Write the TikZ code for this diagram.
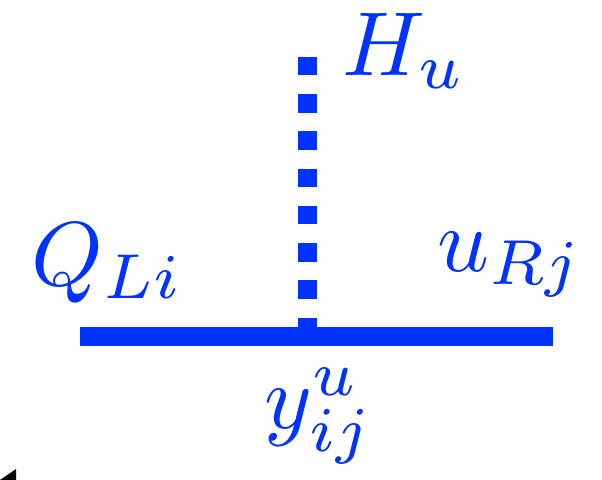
\documentclass[tikz,border=0pt]{standalone}
\usepackage{amsmath}
\usetikzlibrary{positioning}
\definecolor{quark}{RGB}{0,51,255}

\begin{document}
\begin{tikzpicture}[
  x=0.02cm,y=-0.02cm,
  lbl/.style={inner sep=0pt,text=quark,anchor=base west,scale=5.17},
  fermion/.style={line width=10.8pt,color=quark},
  scalar/.style={line width=10.8pt,color=quark,dash pattern=on 10.5pt off 10.7pt},
]
\useasboundingbox (0,0) rectangle (602,480);

\coordinate (qL) at (80,336.5);
\coordinate (uR) at (553,336.5);
\coordinate (vtx) at (307.5,336.5);
\coordinate (hu) at (307.5,57);

\draw[fermion] (qL) -- (uR);
\draw[scalar] (hu) -- (vtx);

\node[lbl] (hlab) at (341,75) {$H_u$};
\node[lbl] (qlab) at (30,285) {$Q_{Li}$};
\node[lbl] (ulab) at (436,271) {$u_{Rj}$};
\node[lbl] (ylab) at (263,428) {$y^u_{ij}$};

% clipped arrow tip
\fill (0,480) -- (16,469) -- (16,480) -- cycle;

\end{tikzpicture}
\end{document}
